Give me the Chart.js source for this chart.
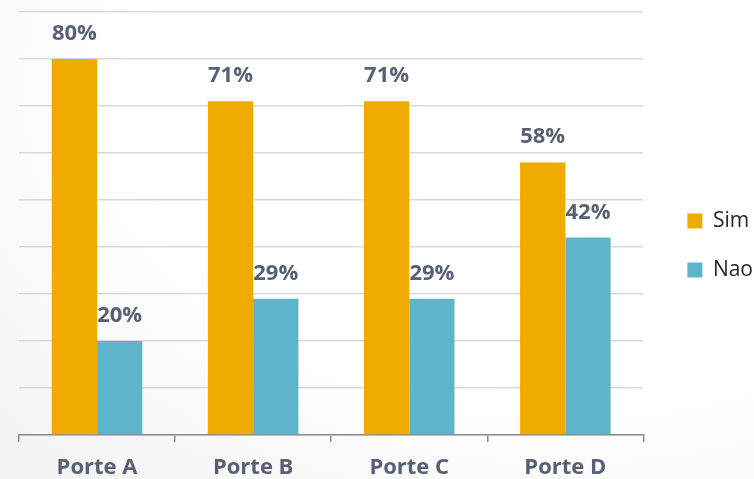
<!DOCTYPE html>
<html>
<head>
<meta charset="utf-8">
<script src="https://cdn.jsdelivr.net/npm/chart.js@4"></script>
<style>
  html, body { margin: 0; padding: 0; }
  body {
    width: 754px; height: 479px; overflow: hidden;
    background: radial-gradient(ellipse at 75% 20%, #ffffff 55%, #f2f2f2 100%);
  }
  #wrap { position: relative; width: 754px; height: 479px; }
</style>
</head>
<body>
<div id="wrap"><canvas id="porteChart"></canvas></div>
<script>
// data
const categories = ['Porte A', 'Porte B', 'Porte C', 'Porte D'];
const simValues = [80, 71, 71, 58];
const naoValues = [20, 29, 29, 42];
const seriesNames = ['Sim', 'Nao'];

const labelColor = '#576075';
const fontFamily = '"Open Sans", "Noto Sans", sans-serif';

// draws the % above each bar
const barLabels = {
  id: 'barLabels',
  afterDatasetsDraw(chart) {
    const ctx = chart.ctx;
    ctx.save();
    ctx.font = 'bold 22px ' + fontFamily;
    ctx.fillStyle = labelColor;
    ctx.textAlign = 'center';
    ctx.textBaseline = 'alphabetic';
    chart.data.datasets.forEach((ds, i) => {
      chart.getDatasetMeta(i).data.forEach((bar, j) => {
        ctx.fillText(ds.data[j] + '%', bar.x, bar.y - 19);
      });
    });
    ctx.restore();
  }
};

new Chart(document.getElementById('porteChart'), {
  type: 'bar',
  data: {
    labels: categories,
    datasets: [
      { label: seriesNames[0], data: simValues, backgroundColor: '#F0AB00' },
      { label: seriesNames[1], data: naoValues, backgroundColor: '#5EB4CB' }
    ]
  },
  options: {
    responsive: true,
    maintainAspectRatio: false,
    animation: false,
    layout: { padding: { left: 19, right: -9, top: 12, bottom: 0 } },
    datasets: {
      bar: { categoryPercentage: 0.58, barPercentage: 1.0 }
    },
    scales: {
      x: {
        grid: { display: true, drawOnChartArea: false, drawTicks: true, tickLength: 7, color: '#8c8c8c', lineWidth: 1.5 },
        border: { display: true, color: '#8c8c8c', width: 1.5 },
        ticks: { color: labelColor, font: { family: fontFamily, size: 22, weight: 'bold' }, padding: 13 },
        afterFit(scale) { scale.height = 44; }
      },
      y: {
        position: 'right',
        min: 0,
        max: 90,
        ticks: { display: false, stepSize: 10 },
        grid: { color: '#d9d9d9', lineWidth: 1.5, drawTicks: false },
        border: { display: false },
        afterFit(scale) { scale.width = 16; }
      }
    },
    plugins: {
      legend: {
        position: 'right',
        labels: {
          boxWidth: 15,
          boxHeight: 15,
          padding: 28,
          color: '#262626',
          font: { family: fontFamily, size: 21 }
        }
      },
      tooltip: { enabled: false }
    }
  },
  plugins: [barLabels]
});
</script>
</body>
</html>
